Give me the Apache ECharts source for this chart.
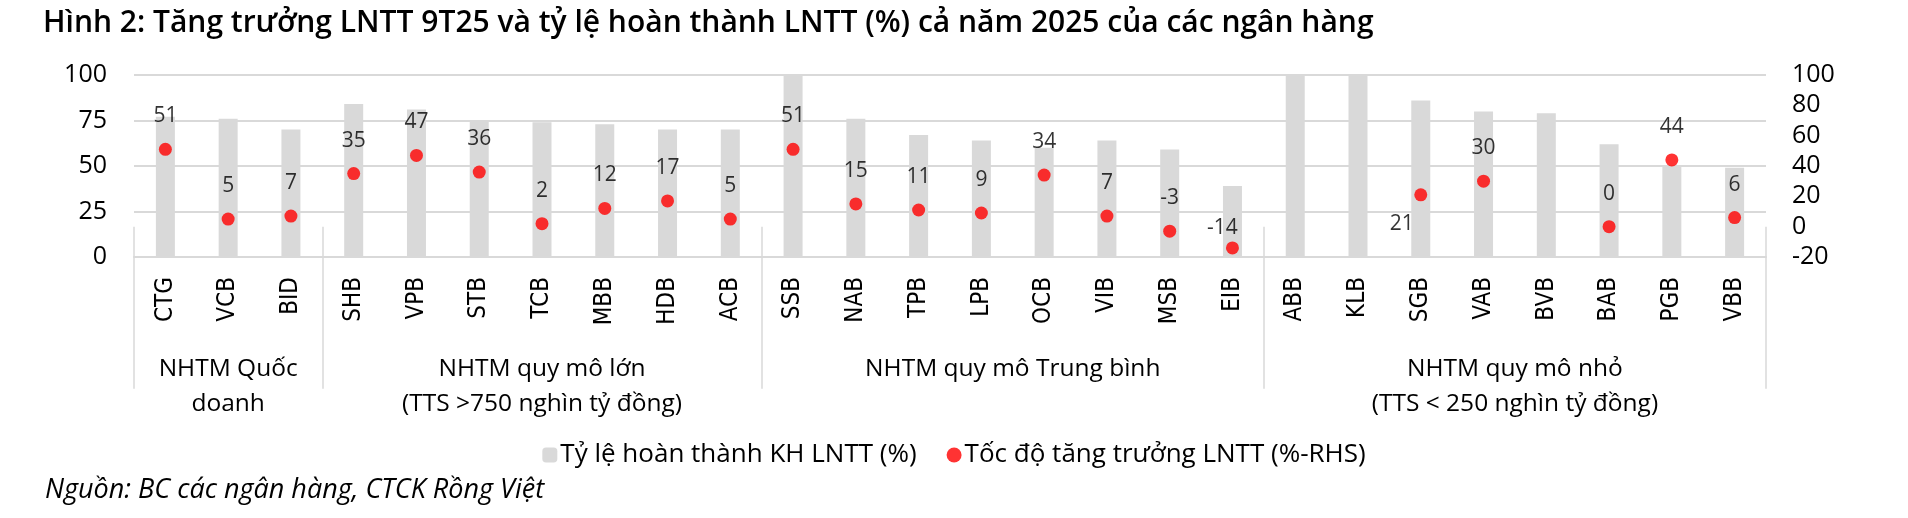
<!DOCTYPE html>
<html>
<head>
<meta charset="utf-8">
<script src="https://cdn.jsdelivr.net/npm/echarts@6/dist/echarts.min.js"></script>
<style>
html,body{margin:0;padding:0;background:#fff;}
#chart{width:1908px;height:518px;}
</style>
</head>
<body>
<div id="chart"></div>
<script>
// ---- Data ----
const categories = ['CTG','VCB','BID','SHB','VPB','STB','TCB','MBB','HDB','ACB','SSB','NAB','TPB','LPB','OCB','VIB','MSB','EIB','ABB','KLB','SGB','VAB','BVB','BAB','PGB','VBB'];
const completionPct = [77,76,70,84,81,75,74,73,70,70,100,76,67,64,60,64,59,39,100,100,86,80,79,62,50,49];
const growthPct = [51,5,7,35,47,36,2,12,17,5,51,15,11,9,34,7,-3,-14,null,null,21,30,null,0,44,6];
const groupNames = ['NHTM Quốc\ndoanh','NHTM quy mô lớn\n(TTS >750 nghìn tỷ đồng)','NHTM quy mô Trung bình','NHTM quy mô nhỏ\n(TTS < 250 nghìn tỷ đồng)'];
const groupSizes = [3,7,8,8];
const leftTicks = {min:0,max:100,interval:25};
const rightTicks = {min:-20,max:100,interval:20};
const seriesNames = ['Tỷ lệ hoàn thành KH LNTT (%)','Tốc độ tăng trưởng LNTT (%-RHS)'];
const titleText = 'Hình 2: Tăng trưởng LNTT 9T25 và tỷ lệ hoàn thành LNTT (%) cả năm 2025 của các ngân hàng';
const sourceText = 'Nguồn: BC các ngân hàng, CTCK Rồng Việt';

// ---- Build helpers ----
const FONT = "'Open Sans', 'Noto Sans', sans-serif";
const GRID_COLOR = '#d9d9d9';
// half-category slots for group axis
const nSlots = categories.length * 2 + 1;
const slotData = new Array(nSlots).fill('');
const boundarySlots = [0];
const centerSlots = [];
let acc = 0;
groupSizes.forEach((s, i) => {
  const c = (acc * 2) + s; // center slot
  slotData[c] = groupNames[i];
  centerSlots.push(c);
  acc += s;
  boundarySlots.push(acc * 2);
});

const labelOffsetOverrides = { SGB: [-19, 29], EIB: [-10, -20] };
const scatterData = growthPct.map((v, i) => {
  const off = labelOffsetOverrides[categories[i]] || [0, -33];
  return { value: v, label: { offset: off } };
});

const chart = echarts.init(document.getElementById('chart'), null, {renderer:'canvas'});
chart.setOption({
  backgroundColor: '#fff',
  animation: false,
  title: [
    { text: titleText, left: 38, top: 3,
      textStyle: { fontFamily: FONT, fontSize: 30, fontWeight: 600, color: '#000' } },
    { text: sourceText, left: 40, top: 472,
      textStyle: { fontFamily: FONT, fontSize: 27, fontWeight: 'normal', fontStyle: 'italic', color: '#000' } }
  ],
  legend: {
    data: seriesNames,
    left: 'center',
    top: 437,
    itemWidth: 15, itemHeight: 15, itemGap: 30,
    textStyle: { fontFamily: FONT, fontSize: 26, color: '#000', padding: [0,0,0,-2] }
  },
  grid: { left: 134, right: 142, top: 75, bottom: 261, containLabel: false },
  xAxis: [
    {
      type: 'category', data: categories, position: 'bottom',
      axisLine: { show: true, lineStyle: { color: GRID_COLOR, width: 2 } },
      axisTick: { show: false },
      axisLabel: { rotate: 90, margin: 20, fontFamily: "'DejaVu Sans Condensed', 'DejaVu Sans', sans-serif", fontSize: 24, color: '#000', interval: 0 }
    },
    {
      type: 'category', data: slotData, position: 'bottom', offset: 0, boundaryGap: false,
      axisLine: { show: false },
      axisTick: { show: true, length: 162, interval: (i) => boundarySlots.includes(i), lineStyle: { color: GRID_COLOR, width: 1.5 } },
      axisLabel: { interval: (i) => centerSlots.includes(i), margin: 95, fontFamily: FONT, fontSize: 24.5, lineHeight: 35, color: '#000', align: 'center' }
    }
  ],
  yAxis: [
    {
      type: 'value', min: leftTicks.min, max: leftTicks.max, interval: leftTicks.interval, position: 'left',
      axisLine: { show: false }, axisTick: { show: false },
      axisLabel: { margin: 27, fontFamily: FONT, fontSize: 25, color: '#000' },
      splitLine: { show: true, lineStyle: { color: GRID_COLOR, width: 2 } }
    },
    {
      type: 'value', min: rightTicks.min, max: rightTicks.max, interval: rightTicks.interval, position: 'right',
      axisLine: { show: false }, axisTick: { show: false },
      axisLabel: { margin: 26, fontFamily: FONT, fontSize: 25, color: '#000' },
      splitLine: { show: false }
    }
  ],
  series: [
    {
      name: seriesNames[0], type: 'bar', xAxisIndex: 0, yAxisIndex: 0,
      data: completionPct, barWidth: 19,
      itemStyle: { color: '#d9d9d9' }
    },
    {
      name: seriesNames[1], type: 'scatter', xAxisIndex: 0, yAxisIndex: 1,
      data: scatterData, symbol: 'circle', symbolSize: 13,
      itemStyle: { color: '#ff0000' },
      label: { show: true, position: 'inside', fontFamily: FONT, fontSize: 21, color: '#000', formatter: (p) => p.value }
    }
  ]
});
</script>
</body>
</html>
